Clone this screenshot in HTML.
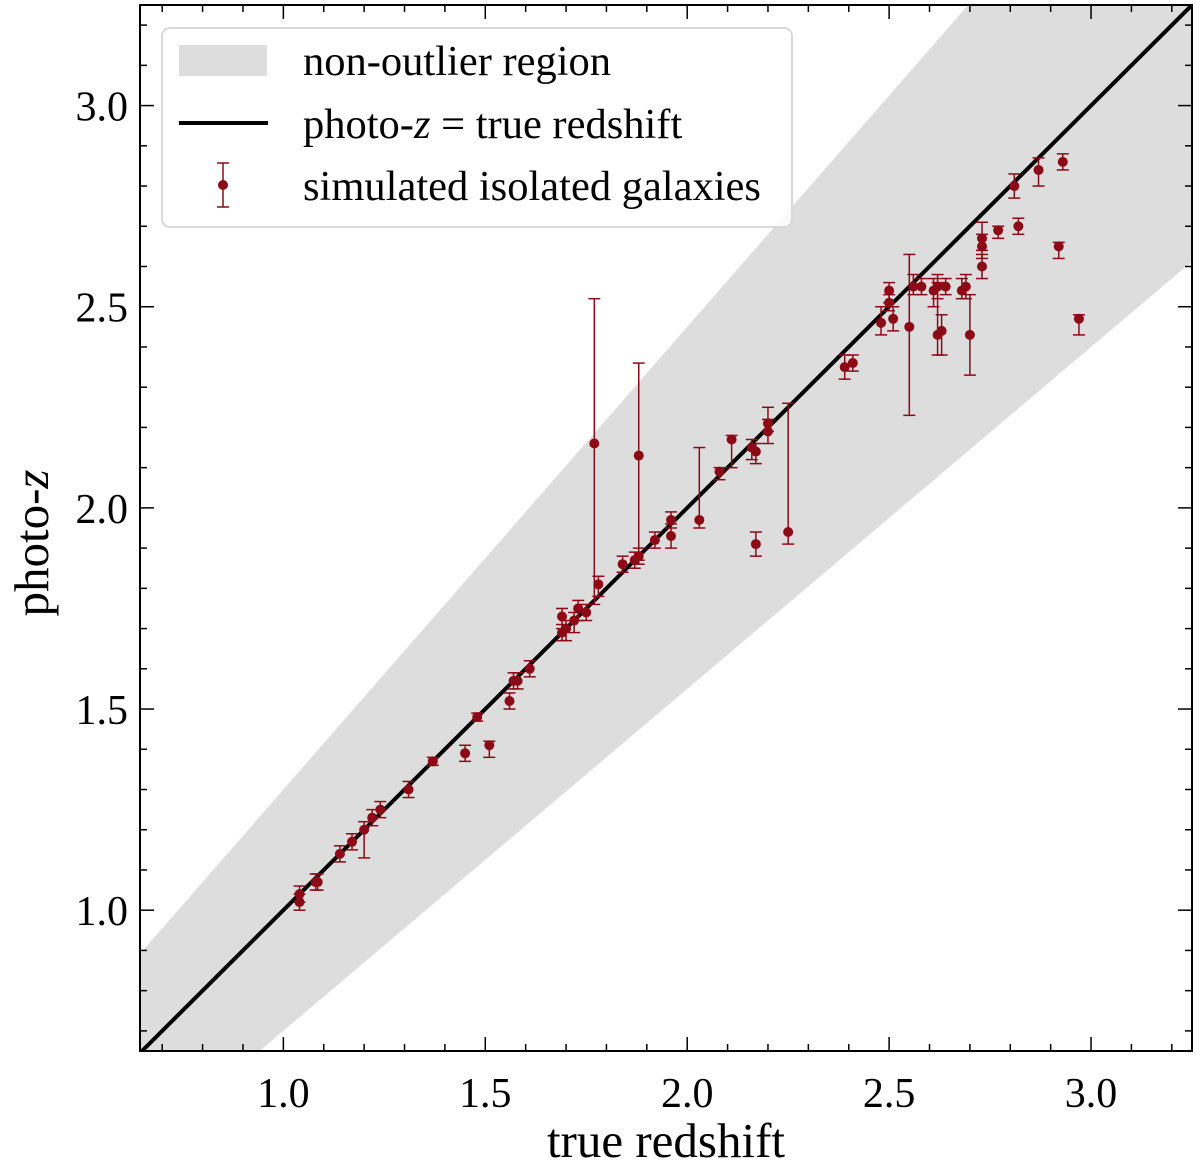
<!DOCTYPE html>
<html><head><meta charset="utf-8"><style>
html,body{margin:0;padding:0;background:#fff;overflow:hidden;width:1200px;height:1166px;}
svg{display:block;}
text{font-family:"Liberation Serif","DejaVu Serif",serif;}
</style></head><body>
<svg id="chart" width="1200" height="1166" viewBox="0 0 1200 1166" font-family="Liberation Serif, DejaVu Serif, serif" xmlns="http://www.w3.org/2000/svg"></svg>
<script>
const trueZ = [1.04,1.04,1.08,1.085,1.14,1.17,1.20,1.22,1.24,1.31,1.37,1.45,1.51,1.48,1.56,1.57,1.58,1.61,
 1.69,1.69,1.70,1.72,1.73,1.75,1.77,1.78,1.84,1.87,1.88,1.88,1.92,1.96,1.96,2.03,2.08,2.11,2.16,2.17,2.17,2.20,2.20,2.25,
 2.39,2.41,2.48,2.50,2.50,2.51,2.55,2.56,2.58,2.61,2.62,2.62,2.63,2.64,2.68,2.69,2.70,2.73,2.73,2.73,2.77,2.81,2.82,2.87,2.92,2.93,2.97];
const photoZ = [1.02,1.04,1.07,1.07,1.14,1.17,1.20,1.23,1.25,1.30,1.37,1.39,1.41,1.48,1.52,1.57,1.57,1.60,
 1.73,1.69,1.70,1.72,1.75,1.74,2.16,1.81,1.86,1.87,1.88,2.13,1.92,1.97,1.93,1.97,2.09,2.17,2.15,2.14,1.91,2.21,2.19,1.94,
 2.35,2.36,2.46,2.51,2.54,2.47,2.45,2.55,2.55,2.54,2.55,2.43,2.44,2.55,2.54,2.55,2.43,2.60,2.65,2.67,2.69,2.80,2.70,2.84,2.65,2.86,2.47];
const errLo = [0.02,0.02,0.02,0.02,0.02,0.02,0.07,0.02,0.02,0.02,0.01,0.02,0.03,0.01,0.02,0.02,0.02,0.02,
 0.03,0.02,0.03,0.03,0.03,0.02,0.40,0.03,0.02,0.02,0.02,0.26,0.02,0.02,0.03,0.02,0.02,0.07,0.03,0.03,0.03,0.02,0.03,0.03,
 0.03,0.02,0.03,0.02,0.03,0.03,0.22,0.02,0.02,0.04,0.03,0.05,0.06,0.02,0.02,0.03,0.10,0.03,0.03,0.03,0.02,0.03,0.02,0.04,0.03,0.02,0.04];
const errHi = [0.02,0.02,0.02,0.02,0.02,0.02,0.02,0.02,0.02,0.02,0.01,0.02,0.01,0.01,0.02,0.02,0.02,0.02,
 0.02,0.02,0.02,0.02,0.02,0.02,0.36,0.02,0.02,0.02,0.02,0.23,0.02,0.02,0.03,0.18,0.01,0.01,0.02,0.02,0.03,0.04,0.03,0.32,
 0.03,0.02,0.04,0.02,0.02,0.03,0.18,0.03,0.02,0.03,0.03,0.13,0.04,0.02,0.03,0.03,0.10,0.03,0.03,0.04,0.01,0.03,0.02,0.03,0.01,0.02,0.01];
const xTickLabels = ["1.0","1.5","2.0","2.5","3.0"];
const yTickLabels = ["1.0","1.5","2.0","2.5","3.0"];
const bandFrac = 0.15;

const NS="http://www.w3.org/2000/svg";
const svg=document.getElementById('chart');
const FONT='Liberation Serif, DejaVu Serif, serif';
const L=140,R=1192,T=5,B=1051;
const xmin=0.645,xmax=3.25,ymin=0.65,ymax=3.25;
const X=v=>L+(v-xmin)/(xmax-xmin)*(R-L);
const Y=v=>B-(v-ymin)/(ymax-ymin)*(B-T);
function el(tag,attrs,parent){const e=document.createElementNS(NS,tag);for(const k in attrs)e.setAttribute(k,attrs[k]);if(tag==='text')e.setAttribute('font-family',FONT);(parent||svg).appendChild(e);return e;}

const defs=el('defs',{});
const cp=el('clipPath',{id:'clip'},defs);
el('rect',{x:L,y:T,width:R-L,height:B-T},cp);
const g=el('g',{'clip-path':'url(#clip)'});



const xs=[xmin-0.5,xmax+0.5];
const up=x=>x+bandFrac*(1+x), lo=x=>x-bandFrac*(1+x);
const band=el('polygon',{points:`${X(xs[0])},${Y(up(xs[0]))} ${X(xs[1])},${Y(up(xs[1]))} ${X(xs[1])},${Y(lo(xs[1]))} ${X(xs[0])},${Y(lo(xs[0]))}`,fill:'#dddddd'},g);


const idl=el('line',{x1:X(xs[0]),y1:Y(xs[0]),x2:X(xs[1]),y2:Y(xs[1]),stroke:'#000','stroke-width':4},g);



const col='#8c0a16';
for(let i=0;i<trueZ.length;i++){
  const pg=el('g',{},g);
  
  
  const x=X(trueZ[i]),y1=Y(photoZ[i]-errLo[i]),y2=Y(photoZ[i]+errHi[i]);
  el('line',{x1:x,y1:y1,x2:x,y2:y2,stroke:col,'stroke-width':1.5},pg);
  el('line',{x1:x-6,y1:y1,x2:x+6,y2:y1,stroke:col,'stroke-width':1.5},pg);
  el('line',{x1:x-6,y1:y2,x2:x+6,y2:y2,stroke:col,'stroke-width':1.5},pg);
  el('circle',{cx:x,cy:Y(photoZ[i]),r:5,fill:col},pg);
}

const fr=el('rect',{x:L,y:T,width:R-L,height:B-T,fill:'none',stroke:'#000','stroke-width':2});



for(let k=7;k<=32;k++){
  const v=k/10, major=(k%5===0), len=major?14:7;
  const x=X(v);
  if(x>L&&x<R){
    el('line',{x1:x,y1:B,x2:x,y2:B-len,stroke:'#000','stroke-width':1.5});
    el('line',{x1:x,y1:T,x2:x,y2:T+len,stroke:'#000','stroke-width':1.5});
  }
  const y=Y(v);
  if(y>T&&y<B){
    el('line',{x1:L,y1:y,x2:L+len,y2:y,stroke:'#000','stroke-width':1.5});
    el('line',{x1:R,y1:y,x2:R-len,y2:y,stroke:'#000','stroke-width':1.5});
  }
}
xTickLabels.forEach(s=>{
  const t=el('text',{x:X(parseFloat(s)),y:1107,'text-anchor':'middle','font-size':42});
  t.textContent=s;
  
  
});
yTickLabels.forEach(s=>{
  const t=el('text',{x:128,y:Y(parseFloat(s))+15,'text-anchor':'end','font-size':42});
  t.textContent=s;
  
  
});
const xt=el('text',{x:666,y:1157,'text-anchor':'middle','font-size':49});
xt.textContent='true redshift';


const yt=el('text',{x:0,y:0,'text-anchor':'middle','font-size':49,transform:'translate(48,543) rotate(-90)'});
yt.innerHTML='photo-<tspan font-style="italic">z</tspan>';



const lg=el('g',{});


el('rect',{x:162,y:28,width:630,height:199,rx:8,fill:'#fff','fill-opacity':0.85,stroke:'#d8d8d8','stroke-width':2},lg);
el('rect',{x:179,y:45,width:88,height:31,fill:'#dddddd'},lg);
el('line',{x1:179,y1:123,x2:268,y2:123,stroke:'#000','stroke-width':4},lg);
el('line',{x1:223,y1:163,x2:223,y2:207,stroke:col,'stroke-width':1.5},lg);
el('line',{x1:217,y1:163,x2:229,y2:163,stroke:col,'stroke-width':1.5},lg);
el('line',{x1:217,y1:207,x2:229,y2:207,stroke:col,'stroke-width':1.5},lg);
el('circle',{cx:223,cy:185,r:5,fill:col},lg);
const l1=el('text',{x:303,y:75,'font-size':42.5},lg); l1.textContent='non-outlier region';


const l2=el('text',{x:303,y:138,'font-size':42.5},lg); l2.innerHTML='photo-<tspan font-style="italic">z</tspan> = true redshift';


const l3=el('text',{x:303,y:200,'font-size':42.5},lg); l3.textContent='simulated isolated galaxies';


</script>
</body></html>
